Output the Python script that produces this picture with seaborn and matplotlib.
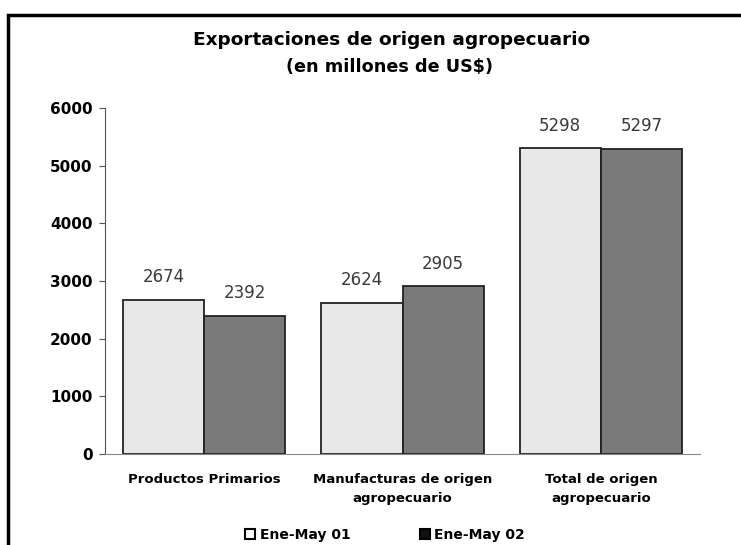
import pandas as pd
import matplotlib.pyplot as plt
import seaborn as sns
from matplotlib.patches import Rectangle

categorias = ["Productos Primarios", "Manufacturas de origen\nagropecuario", "Total de origen\nagropecuario"]
ene_may_01 = [2674, 2624, 5298]
ene_may_02 = [2392, 2905, 5297]
series = ["Ene-May 01", "Ene-May 02"]

df = pd.DataFrame({
    "categoria": categorias * 2,
    "valor": ene_may_01 + ene_may_02,
    "serie": [series[0]] * 3 + [series[1]] * 3,
})

sns.set_style("white")
plt.rcParams["font.family"] = ["DejaVu Sans"]
plt.rcParams["text.color"] = "black"

fig = plt.figure(figsize=(7.41, 5.45), dpi=100)
ax = fig.add_axes([105 / 741, 1 - 454 / 545, 595 / 741, 346 / 545])

sns.barplot(data=df, x="categoria", y="valor", hue="serie",
            palette=["#e8e8e8", "#7a7a7a"], edgecolor="#222222", linewidth=1.3,
            width=0.82, gap=0, ax=ax, legend=False)

for cont in ax.containers:
    ax.bar_label(cont, fmt="%d", padding=10, fontsize=12, color="#3a3a3a")

ax.set_ylim(0, 6000)
ax.set_xlim(-0.5, 2.5)
ax.set_yticks(range(0, 6001, 1000))
ax.set_xlabel("")
ax.set_ylabel("")
for s in ["top", "right"]:
    ax.spines[s].set_visible(False)
ax.spines["left"].set_color("#555555")
ax.spines["bottom"].set_color("#888888")
ax.tick_params(axis="y", length=4, direction="out", left=True, colors="#555555", labelcolor="black",
               labelsize=11, pad=5)
ax.tick_params(axis="x", length=0, labelsize=9.5, pad=14, labelcolor="black")
for t in ax.get_yticklabels():
    t.set_fontweight("bold")
for t in ax.get_xticklabels():
    t.set_fontweight("bold")
    t.set_linespacing(1.6)

fig.text(392 / 741, 1 - 40 / 545, "Exportaciones de origen agropecuario", ha="center", va="center",
         fontsize=13.3, fontweight="bold", color="black")
fig.text(390 / 741, 1 - 67 / 545, "(en millones de US$)", ha="center", va="center",
         fontsize=12.7, fontweight="bold", color="black")

# legend
handles = [Rectangle((0, 0), 1, 1, facecolor=c, edgecolor="black", linewidth=1.5)
           for c in ["#ffffff", "#111111"]]
fig.legend(handles, series, loc="center", bbox_to_anchor=(385 / 741, 1 - 535 / 545), ncol=2,
           frameon=False, handlelength=0.75, handleheight=0.75, handletextpad=0.3,
           columnspacing=5.0, prop={"weight": "bold", "size": 10})

# frame around the chart
fig.patches.append(Rectangle((8 / 741, -0.05), 1.0, 1 - 15 / 545 + 0.05, transform=fig.transFigure,
                             fill=False, edgecolor="black", linewidth=2.5))

fig.savefig("out.png", dpi=100)
